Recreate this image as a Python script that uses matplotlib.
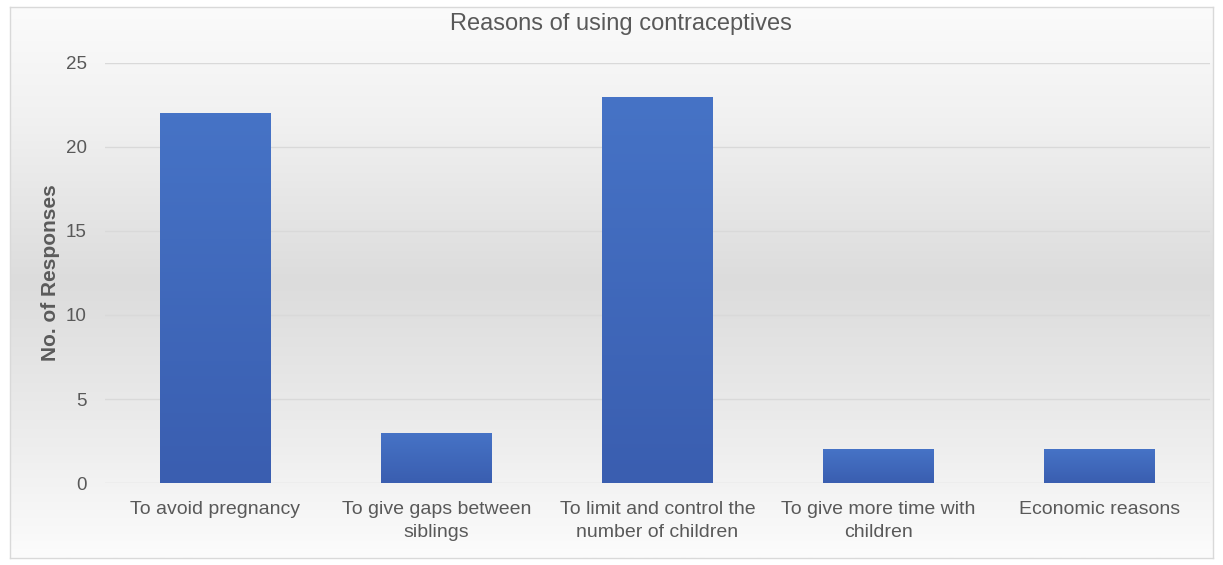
import numpy as np
import matplotlib.pyplot as plt
from matplotlib.colors import LinearSegmentedColormap

categories = ["To avoid pregnancy", "To give gaps between\nsiblings",
              "To limit and control the\nnumber of children",
              "To give more time with\nchildren", "Economic reasons"]
responses = [22, 3, 23, 2, 2]
y_ticks = [0, 5, 10, 15, 20, 25]

plt.rcParams['font.family'] = ['Liberation Sans', 'DejaVu Sans']

fig = plt.figure(figsize=(12.23, 5.65), dpi=100)

# background with vertical gradient (light - grey - light)
bg = fig.add_axes([10 / 1223, 7 / 565, 1203 / 1223, 551 / 565], zorder=-10)
bg_cmap = LinearSegmentedColormap.from_list(
    "bg", [(0, "#fbfbfb"), (0.2, "#f1f1f1"), (0.5, "#dcdcdc"), (0.8, "#eeeeee"), (1, "#fcfcfc")])
bg.imshow(np.linspace(0, 1, 256).reshape(-1, 1), aspect="auto", cmap=bg_cmap,
          extent=[0, 1, 1, 0])
bg.set_xticks([])
bg.set_yticks([])
for s in bg.spines.values():
    s.set_color("#d9d9d9")
    s.set_linewidth(1)

ax = fig.add_axes([105 / 1223, 82 / 565, 1105 / 1223, 420 / 565])
ax.patch.set_alpha(0)

x = np.arange(len(categories))
bars = ax.bar(x, responses, width=0.5, color="#4169bd", zorder=2)

# gradient fill inside each bar, lighter at the top
bar_cmap = LinearSegmentedColormap.from_list("bar", ["#4673c6", "#3a5eb0"])
for b in bars:
    im = ax.imshow(np.linspace(0, 1, 100).reshape(-1, 1), aspect="auto", cmap=bar_cmap,
                   extent=[b.get_x(), b.get_x() + b.get_width(), 0, b.get_height()],
                   origin="upper", zorder=3)
    im.set_clip_path(b)

ax.set_xlim(-0.5, len(categories) - 0.5)
ax.set_ylim(0, 25)
ax.set_yticks(y_ticks)
ax.set_xticks(x)
ax.set_xticklabels(categories, fontsize=14, color="#595959", linespacing=1.45)
ax.tick_params(axis="y", labelsize=13.5, labelcolor="#595959", length=0, pad=13)
ax.tick_params(axis="x", length=0, pad=13)
ax.yaxis.grid(True, color="#d9d9d9", linewidth=1, zorder=0)
ax.set_axisbelow(True)
for s in ax.spines.values():
    s.set_visible(False)

ax.set_ylabel("No. of Responses", fontsize=15, fontweight="bold", color="#5a5a5a", labelpad=4)
fig.text(621 / 1223, 1 - 24 / 565, "Reasons of using contraceptives", ha="center", va="center",
         fontsize=17, color="#595959")

fig.savefig("out.png", dpi=100)
